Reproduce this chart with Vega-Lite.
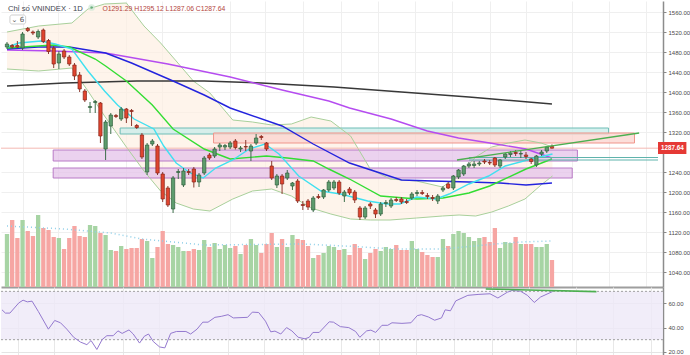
{
"$schema":"https://vega.github.io/schema/vega-lite/v6.json",
"padding":0,"spacing":0,"bounds":"flush","background":"#ffffff",
"config":{"view":{"stroke":null},"text":{"font":"Liberation Sans"},"axis":{"labelFont":"Liberation Sans"}},
"datasets":{
"candles":[
{"t":0,"o":1490,"h":1500,"l":1486,"c":1496,"v":265},
{"t":1,"o":1493,"h":1496,"l":1487,"c":1490,"v":335},
{"t":2,"o":1493,"h":1502,"l":1488,"c":1490,"v":245},
{"t":3,"o":1488,"h":1520,"l":1484,"c":1516,"v":335},
{"t":4,"o":1527,"h":1530,"l":1520,"c":1523,"v":280},
{"t":5,"o":1520,"h":1523,"l":1514,"c":1518,"v":255},
{"t":6,"o":1510,"h":1525,"l":1506,"c":1521,"v":360},
{"t":7,"o":1524,"h":1527,"l":1498,"c":1501,"v":295},
{"t":8,"o":1503,"h":1506,"l":1476,"c":1481,"v":285},
{"t":9,"o":1488,"h":1492,"l":1448,"c":1456,"v":250},
{"t":10,"o":1458,"h":1482,"l":1446,"c":1476,"v":245},
{"t":11,"o":1482,"h":1486,"l":1466,"c":1470,"v":190},
{"t":12,"o":1470,"h":1474,"l":1452,"c":1456,"v":245},
{"t":13,"o":1454,"h":1458,"l":1424,"c":1432,"v":305},
{"t":14,"o":1434,"h":1440,"l":1400,"c":1406,"v":255},
{"t":15,"o":1402,"h":1406,"l":1380,"c":1384,"v":250},
{"t":16,"o":1369,"h":1380,"l":1358,"c":1371,"v":310},
{"t":17,"o":1379,"h":1384,"l":1358,"c":1381,"v":305},
{"t":18,"o":1378,"h":1380,"l":1298,"c":1312,"v":270},
{"t":19,"o":1286,"h":1344,"l":1264,"c":1340,"v":260},
{"t":20,"o":1332,"h":1358,"l":1316,"c":1354,"v":185},
{"t":21,"o":1353,"h":1356,"l":1348,"c":1351,"v":180},
{"t":22,"o":1346,"h":1370,"l":1342,"c":1366,"v":205},
{"t":23,"o":1366,"h":1368,"l":1338,"c":1348,"v":190},
{"t":24,"o":1363,"h":1366,"l":1332,"c":1361,"v":195},
{"t":25,"o":1333,"h":1336,"l":1326,"c":1329,"v":195},
{"t":26,"o":1314,"h":1318,"l":1266,"c":1270,"v":240},
{"t":27,"o":1240,"h":1298,"l":1234,"c":1294,"v":230},
{"t":28,"o":1296,"h":1306,"l":1292,"c":1302,"v":145},
{"t":29,"o":1292,"h":1296,"l":1234,"c":1238,"v":200},
{"t":30,"o":1236,"h":1240,"l":1180,"c":1186,"v":280},
{"t":31,"o":1208,"h":1212,"l":1170,"c":1174,"v":215},
{"t":32,"o":1166,"h":1232,"l":1158,"c":1228,"v":210},
{"t":33,"o":1239,"h":1246,"l":1226,"c":1241,"v":200},
{"t":34,"o":1214,"h":1248,"l":1210,"c":1242,"v":180},
{"t":35,"o":1241,"h":1246,"l":1234,"c":1239,"v":180},
{"t":36,"o":1246,"h":1250,"l":1209,"c":1220,"v":190},
{"t":37,"o":1220,"h":1238,"l":1210,"c":1234,"v":185},
{"t":38,"o":1238,"h":1272,"l":1234,"c":1268,"v":235},
{"t":39,"o":1274,"h":1278,"l":1264,"c":1268,"v":200},
{"t":40,"o":1272,"h":1290,"l":1268,"c":1286,"v":220},
{"t":41,"o":1290,"h":1298,"l":1282,"c":1294,"v":190},
{"t":42,"o":1290,"h":1296,"l":1284,"c":1293,"v":210},
{"t":43,"o":1290,"h":1302,"l":1286,"c":1298,"v":195},
{"t":44,"o":1302,"h":1306,"l":1285,"c":1289,"v":205},
{"t":45,"o":1286,"h":1292,"l":1280,"c":1288,"v":165},
{"t":46,"o":1291,"h":1304,"l":1282,"c":1290,"v":210},
{"t":47,"o":1282,"h":1296,"l":1262,"c":1292,"v":240},
{"t":48,"o":1298,"h":1316,"l":1294,"c":1308,"v":210},
{"t":49,"o":1311,"h":1314,"l":1304,"c":1309,"v":170},
{"t":50,"o":1298,"h":1300,"l":1282,"c":1286,"v":215},
{"t":51,"o":1252,"h":1262,"l":1224,"c":1228,"v":270},
{"t":52,"o":1214,"h":1236,"l":1208,"c":1232,"v":200},
{"t":53,"o":1232,"h":1236,"l":1196,"c":1216,"v":240},
{"t":54,"o":1228,"h":1244,"l":1224,"c":1238,"v":200},
{"t":55,"o":1212,"h":1220,"l":1204,"c":1218,"v":260},
{"t":56,"o":1222,"h":1226,"l":1178,"c":1182,"v":240},
{"t":57,"o":1175,"h":1182,"l":1164,"c":1173,"v":235},
{"t":58,"o":1182,"h":1186,"l":1164,"c":1170,"v":205},
{"t":59,"o":1164,"h":1192,"l":1160,"c":1188,"v":145},
{"t":60,"o":1191,"h":1196,"l":1186,"c":1189,"v":160},
{"t":61,"o":1190,"h":1206,"l":1186,"c":1204,"v":170},
{"t":62,"o":1204,"h":1224,"l":1200,"c":1220,"v":205},
{"t":63,"o":1208,"h":1224,"l":1204,"c":1220,"v":200},
{"t":64,"o":1220,"h":1224,"l":1194,"c":1198,"v":185},
{"t":65,"o":1192,"h":1204,"l":1180,"c":1200,"v":190},
{"t":66,"o":1206,"h":1210,"l":1194,"c":1198,"v":160},
{"t":67,"o":1200,"h":1204,"l":1178,"c":1184,"v":215},
{"t":68,"o":1168,"h":1172,"l":1144,"c":1150,"v":195},
{"t":69,"o":1150,"h":1172,"l":1146,"c":1168,"v":140},
{"t":70,"o":1176,"h":1180,"l":1166,"c":1172,"v":170},
{"t":71,"o":1164,"h":1168,"l":1148,"c":1156,"v":190},
{"t":72,"o":1156,"h":1180,"l":1152,"c":1176,"v":180},
{"t":73,"o":1177,"h":1184,"l":1170,"c":1179,"v":200},
{"t":74,"o":1172,"h":1188,"l":1168,"c":1184,"v":190},
{"t":75,"o":1185,"h":1190,"l":1180,"c":1183,"v":210},
{"t":76,"o":1186,"h":1190,"l":1176,"c":1180,"v":185},
{"t":77,"o":1181,"h":1186,"l":1176,"c":1179,"v":185},
{"t":78,"o":1188,"h":1200,"l":1184,"c":1196,"v":230},
{"t":79,"o":1197,"h":1204,"l":1192,"c":1199,"v":190},
{"t":80,"o":1199,"h":1204,"l":1194,"c":1197,"v":175},
{"t":81,"o":1193,"h":1198,"l":1186,"c":1191,"v":160},
{"t":82,"o":1189,"h":1194,"l":1182,"c":1187,"v":150},
{"t":83,"o":1182,"h":1196,"l":1176,"c":1192,"v":150},
{"t":84,"o":1204,"h":1212,"l":1200,"c":1208,"v":240},
{"t":85,"o":1216,"h":1220,"l":1206,"c":1208,"v":205},
{"t":86,"o":1208,"h":1234,"l":1204,"c":1232,"v":265},
{"t":87,"o":1230,"h":1246,"l":1226,"c":1244,"v":280},
{"t":88,"o":1236,"h":1254,"l":1232,"c":1252,"v":270},
{"t":89,"o":1252,"h":1260,"l":1248,"c":1256,"v":250},
{"t":90,"o":1253,"h":1262,"l":1248,"c":1256,"v":230},
{"t":91,"o":1256,"h":1262,"l":1252,"c":1258,"v":245},
{"t":92,"o":1262,"h":1266,"l":1256,"c":1260,"v":250},
{"t":93,"o":1259,"h":1264,"l":1254,"c":1258,"v":225},
{"t":94,"o":1268,"h":1270,"l":1250,"c":1254,"v":295},
{"t":95,"o":1252,"h":1266,"l":1248,"c":1264,"v":195},
{"t":96,"o":1270,"h":1278,"l":1266,"c":1276,"v":225},
{"t":97,"o":1275,"h":1282,"l":1270,"c":1278,"v":220},
{"t":98,"o":1279,"h":1284,"l":1272,"c":1277,"v":250},
{"t":99,"o":1276,"h":1282,"l":1268,"c":1277,"v":215},
{"t":100,"o":1274,"h":1280,"l":1266,"c":1271,"v":215},
{"t":101,"o":1266,"h":1268,"l":1256,"c":1261,"v":215},
{"t":102,"o":1254,"h":1274,"l":1250,"c":1272,"v":200},
{"t":103,"o":1276,"h":1284,"l":1272,"c":1280,"v":200},
{"t":104,"o":1282,"h":1292,"l":1278,"c":1290,"v":215},
{"t":105,"o":1291.29,"h":1295.12,"l":1287.06,"c":1287.64,"v":135}
],
"ma":[
{"s":"ma200","t":0,"p":1412},{"s":"ma200","t":11,"p":1418},{"s":"ma200","t":25,"p":1422},{"s":"ma200","t":38,"p":1422},{"s":"ma200","t":49,"p":1418},{"s":"ma200","t":63,"p":1410},{"s":"ma200","t":76,"p":1400},{"s":"ma200","t":89,"p":1390},{"s":"ma200","t":105,"p":1376},
{"s":"ma100","t":0,"p":1484},{"s":"ma100","t":9,"p":1482},{"s":"ma100","t":19,"p":1478},{"s":"ma100","t":31,"p":1456},{"s":"ma100","t":43,"p":1430},{"s":"ma100","t":53,"p":1404},{"s":"ma100","t":62,"p":1382},{"s":"ma100","t":66,"p":1368},{"s":"ma100","t":74,"p":1346},{"s":"ma100","t":81,"p":1322},{"s":"ma100","t":87,"p":1308},{"s":"ma100","t":93,"p":1298},{"s":"ma100","t":100,"p":1286},{"s":"ma100","t":105,"p":1268},
{"s":"ma50","t":0,"p":1486},{"s":"ma50","t":6,"p":1490},{"s":"ma50","t":12,"p":1490},{"s":"ma50","t":19,"p":1478},{"s":"ma50","t":24,"p":1458},{"s":"ma50","t":32,"p":1422},{"s":"ma50","t":38,"p":1394},{"s":"ma50","t":43,"p":1368},{"s":"ma50","t":53,"p":1332},{"s":"ma50","t":59,"p":1296},{"s":"ma50","t":66,"p":1258},{"s":"ma50","t":76,"p":1224},{"s":"ma50","t":82,"p":1222},{"s":"ma50","t":89,"p":1220},{"s":"ma50","t":95,"p":1218},{"s":"ma50","t":100,"p":1214},{"s":"ma50","t":105,"p":1218},
{"s":"ma20","t":0,"p":1488},{"s":"ma20","t":9,"p":1494},{"s":"ma20","t":12,"p":1490},{"s":"ma20","t":17,"p":1466},{"s":"ma20","t":19,"p":1452},{"s":"ma20","t":23,"p":1422},{"s":"ma20","t":28,"p":1374},{"s":"ma20","t":32,"p":1326},{"s":"ma20","t":38,"p":1286},{"s":"ma20","t":43,"p":1266},{"s":"ma20","t":50,"p":1272},{"s":"ma20","t":54,"p":1268},{"s":"ma20","t":59,"p":1262},{"s":"ma20","t":62,"p":1246},{"s":"ma20","t":66,"p":1226},{"s":"ma20","t":72,"p":1192},{"s":"ma20","t":79,"p":1186},{"s":"ma20","t":84,"p":1188},{"s":"ma20","t":89,"p":1198},{"s":"ma20","t":93,"p":1212},{"s":"ma20","t":100,"p":1246},{"s":"ma20","t":105,"p":1266},
{"s":"ma10","t":0,"p":1490},{"s":"ma10","t":2.3,"p":1498},{"s":"ma10","t":6.5,"p":1502},{"s":"ma10","t":9.3,"p":1496},{"s":"ma10","t":12.5,"p":1486},{"s":"ma10","t":15.6,"p":1442},{"s":"ma10","t":18.8,"p":1402},{"s":"ma10","t":21.3,"p":1374},{"s":"ma10","t":24.5,"p":1346},{"s":"ma10","t":28.3,"p":1326},{"s":"ma10","t":30.2,"p":1292},{"s":"ma10","t":32.6,"p":1258},{"s":"ma10","t":35.3,"p":1238},{"s":"ma10","t":37.8,"p":1228},{"s":"ma10","t":40.2,"p":1248},{"s":"ma10","t":43.5,"p":1264},{"s":"ma10","t":46.7,"p":1286},{"s":"ma10","t":49.7,"p":1296},{"s":"ma10","t":52.4,"p":1276},{"s":"ma10","t":56.2,"p":1232},{"s":"ma10","t":60.5,"p":1202},{"s":"ma10","t":64.3,"p":1196},{"s":"ma10","t":69.5,"p":1182},{"s":"ma10","t":73.2,"p":1176},{"s":"ma10","t":75.7,"p":1176},{"s":"ma10","t":78.9,"p":1190},{"s":"ma10","t":82.7,"p":1186},{"s":"ma10","t":85.2,"p":1196},{"s":"ma10","t":89,"p":1216},{"s":"ma10","t":92.8,"p":1232},{"s":"ma10","t":96,"p":1252},{"s":"ma10","t":101,"p":1266},{"s":"ma10","t":105.1,"p":1276}
],
"bb":[
{"t":0,"up":1520,"lo":1446},{"t":6.1,"up":1532,"lo":1442},{"t":12.5,"up":1538,"lo":1448},{"t":15.6,"up":1566,"lo":1402},{"t":18.8,"up":1576,"lo":1352},{"t":23,"up":1578,"lo":1290},{"t":26.4,"up":1532,"lo":1242},{"t":29.6,"up":1498,"lo":1202},{"t":32.6,"up":1462,"lo":1178},{"t":35.9,"up":1422,"lo":1166},{"t":39.1,"up":1398,"lo":1162},{"t":43.5,"up":1344,"lo":1186},{"t":47.3,"up":1340,"lo":1202},{"t":51,"up":1334,"lo":1206},{"t":54.8,"up":1336,"lo":1192},{"t":58.6,"up":1350,"lo":1168},{"t":62.4,"up":1342,"lo":1156},{"t":66.2,"up":1312,"lo":1146},{"t":70,"up":1246,"lo":1144},{"t":73.8,"up":1226,"lo":1144},{"t":78.9,"up":1222,"lo":1148},{"t":83.9,"up":1210,"lo":1152},{"t":87.1,"up":1234,"lo":1154},{"t":90.3,"up":1270,"lo":1152},{"t":93.4,"up":1290,"lo":1160},{"t":96.6,"up":1298,"lo":1172},{"t":99.8,"up":1304,"lo":1186},{"t":102.9,"up":1298,"lo":1214},{"t":105.1,"up":1290,"lo":1232}
],
"volma":[
{"t":0,"v":305},{"t":11,"v":290},{"t":20,"v":270},{"t":26,"v":240},{"t":38,"v":210},{"t":57,"v":215},{"t":65,"v":205},{"t":75,"v":190},{"t":84,"v":190},{"t":94,"v":215},{"t":99,"v":225},{"t":105,"v":230}
],
"rects":[
{"k":"teal","t1":21.8,"t2":115.9,"p1":1328,"p2":1316},
{"k":"red","t1":39.8,"t2":120.9,"p1":1318,"p2":1298},
{"k":"purple","t1":8.9,"t2":109.9,"p1":1284,"p2":1262},
{"k":"purple","t1":8.9,"t2":108.9,"p1":1248,"p2":1228}
],
"levels":[{"t1":89,"t2":125.43,"p":1269},{"t1":89,"t2":125.43,"p":1264}],
"trend":[{"t":86.7,"p":1264},{"t":121.8,"p":1318}],
"rsi":[
{"t":0,"v":54.7},{"t":0.65,"v":52},{"t":1.5,"v":52},{"t":3.2,"v":60.5},{"t":4.0,"v":62.7},{"t":4.8,"v":61.3},{"t":5.7,"v":61.9},{"t":6.9,"v":53.3},{"t":8.8,"v":38.7},{"t":10.0,"v":45.9},{"t":11.1,"v":44},{"t":12.3,"v":38.7},{"t":13.6,"v":32},{"t":14.9,"v":28},{"t":16.1,"v":25.9},{"t":16.9,"v":29.3},{"t":18.0,"v":21.9},{"t":19.0,"v":30.1},{"t":19.9,"v":33.3},{"t":21.1,"v":33.3},{"t":22.0,"v":37.3},{"t":22.8,"v":35.2},{"t":24.1,"v":38.1},{"t":24.9,"v":34.7},{"t":26.1,"v":27.2},{"t":27.0,"v":32.8},{"t":27.8,"v":34.7},{"t":28.7,"v":28.5},{"t":29.9,"v":24},{"t":30.9,"v":23.2},{"t":32.0,"v":35.2},{"t":33.1,"v":36.8},{"t":34.9,"v":36.8},{"t":35.8,"v":34.7},{"t":37.0,"v":38.7},{"t":38.1,"v":44.5},{"t":39.1,"v":44.5},{"t":40.4,"v":48.5},{"t":41.6,"v":49.3},{"t":42.9,"v":50.7},{"t":43.9,"v":48},{"t":46.6,"v":48.5},{"t":47.5,"v":52.8},{"t":48.7,"v":52.5},{"t":50.0,"v":45.3},{"t":51.0,"v":36.5},{"t":51.8,"v":37.1},{"t":52.9,"v":34.7},{"t":54.0,"v":40},{"t":55.0,"v":37.3},{"t":56.2,"v":32},{"t":57.5,"v":30.7},{"t":58.3,"v":32},{"t":59.0,"v":36},{"t":60.2,"v":36},{"t":62.1,"v":44.8},{"t":62.9,"v":44.5},{"t":64.2,"v":40.8},{"t":65.8,"v":40},{"t":67.1,"v":36.8},{"t":67.9,"v":32},{"t":69.2,"v":37.3},{"t":70.0,"v":37.9},{"t":70.9,"v":36},{"t":72.1,"v":41.9},{"t":73.2,"v":41.9},{"t":74.0,"v":44},{"t":75.9,"v":43.5},{"t":77.6,"v":44},{"t":78.8,"v":49.9},{"t":79.6,"v":50.7},{"t":80.9,"v":48.8},{"t":82.1,"v":46.1},{"t":83.4,"v":48},{"t":84.1,"v":54.7},{"t":85.1,"v":53.9},{"t":86.1,"v":62.1},{"t":88.4,"v":66.7},{"t":90.5,"v":67.5},{"t":92.6,"v":68},{"t":94.1,"v":64.5},{"t":95.9,"v":69.3},{"t":96.8,"v":70.7},{"t":98.4,"v":70.1},{"t":99.7,"v":66.7},{"t":101.0,"v":60.8},{"t":102.2,"v":65.3},{"t":104.5,"v":69.9}
],
"rsitrend":[{"t":91.8,"v":72},{"t":112.8,"v":69.8}]
},
"vconcat":[
{"width":662,"height":286,
 "resolve":{"scale":{"y":"independent"},"axis":{"x":"independent","y":"independent"}},
 "layer":[
  {"data":{"name":"bb"},"mark":{"type":"area","color":"#fdefe2","opacity":0.7},
   "encoding":{
    "x":{"field":"t","type":"quantitative","scale":{"domain":[-0.19,125.43],"nice":false,"zero":false},
         "axis":{"values":[3.04,9.87,22.96,29.79,42.88,49.72,57.12,64.33,71.54,78.56,85.77,92.98,100.0,108.9,115.9,123.2],"grid":true,"gridColor":"#efefef","labels":false,"ticks":false,"domain":true,"domainColor":"#9e9e9e","domainWidth":2,"title":null}},
    "y":{"field":"up","type":"quantitative","scale":{"domain":[1010,1582],"nice":false,"zero":false},
         "axis":{"orient":"right","values":[1040,1080,1120,1160,1200,1240,1320,1360,1400,1440,1480,1520,1560],"format":".2f","labelFontSize":6,"labelColor":"#4a4a4a","tickSize":3,"tickColor":"#888888","domainColor":"#8c8c8c","domainWidth":1.5,"grid":true,"gridColor":"#efefef","title":null,"labelPadding":2}},
    "y2":{"field":"lo"}}},
  {"resolve":{"axis":{"x":"independent","y":"independent"}},
   "layer":[
    {"data":{"name":"candles"},"mark":{"type":"bar","size":4.3},
     "encoding":{
      "x":{"field":"t","type":"quantitative","scale":{"domain":[-0.19,125.43],"nice":false,"zero":false},"axis":null},
      "y":{"field":"v","type":"quantitative","scale":{"domain":[0,1430],"nice":false,"zero":true},"axis":null},
      "color":{"condition":{"test":"datum.c >= datum.o","value":"#a7d4a4"},"value":"#f6a6a3"}}},
    {"data":{"name":"volma"},"mark":{"type":"line","color":"#8fcfe8","strokeWidth":1.5,"strokeDash":[1,3]},
     "encoding":{
      "x":{"field":"t","type":"quantitative","scale":{"domain":[-0.19,125.43],"nice":false,"zero":false},"axis":null},
      "y":{"field":"v","type":"quantitative","scale":{"domain":[0,1430],"nice":false,"zero":true},"axis":null}}}
  ]},
  {"resolve":{"axis":{"x":"independent","y":"independent"}},
   "layer":[
    {"data":{"name":"rects"},"mark":{"type":"rect","strokeWidth":1},
     "encoding":{
      "x":{"field":"t1","type":"quantitative","scale":{"domain":[-0.19,125.43],"nice":false,"zero":false},"axis":null},
      "x2":{"field":"t2"},
      "y":{"field":"p1","type":"quantitative","scale":{"domain":[1010,1582],"nice":false,"zero":false},"axis":null},
      "y2":{"field":"p2"},
      "fill":{"field":"k","type":"nominal","scale":{"domain":["teal","red","purple"],"range":["#c8ecea","#fbd3ce","#e4c3ea"]},"legend":null},
      "stroke":{"field":"k","type":"nominal","scale":{"domain":["teal","red","purple"],"range":["#6fbdb6","#f0958b","#b87ac6"]},"legend":null},
      "fillOpacity":{"value":0.75}}},
    {"data":{"name":"bb"},"mark":{"type":"line","color":"#a9d09b","strokeWidth":1},
     "encoding":{
      "x":{"field":"t","type":"quantitative","scale":{"domain":[-0.19,125.43],"nice":false,"zero":false},"axis":null},
      "y":{"field":"up","type":"quantitative","scale":{"domain":[1010,1582],"nice":false,"zero":false},"axis":null}}},
    {"data":{"name":"bb"},"mark":{"type":"line","color":"#a9d09b","strokeWidth":1},
     "encoding":{
      "x":{"field":"t","type":"quantitative","scale":{"domain":[-0.19,125.43],"nice":false,"zero":false},"axis":null},
      "y":{"field":"lo","type":"quantitative","scale":{"domain":[1010,1582],"nice":false,"zero":false},"axis":null}}},
    {"data":{"values":[{}]},"mark":{"type":"rule","color":"#f4b8b2","strokeWidth":1},
     "encoding":{"y":{"datum":1287.64,"type":"quantitative","scale":{"domain":[1010,1582],"nice":false,"zero":false},"axis":null}}},
    {"data":{"name":"ma"},"mark":{"type":"line","strokeWidth":1.4},
     "encoding":{
      "x":{"field":"t","type":"quantitative","scale":{"domain":[-0.19,125.43],"nice":false,"zero":false},"axis":null},
      "y":{"field":"p","type":"quantitative","scale":{"domain":[1010,1582],"nice":false,"zero":false},"axis":null},
      "color":{"field":"s","type":"nominal","scale":{"domain":["ma200","ma100","ma50","ma20","ma10"],"range":["#383838","#b54cf0","#2323dd","#33dd33","#40e0f0"]},"legend":null}}},
    {"data":{"name":"levels"},"mark":{"type":"rule","color":"#5fb3ac","strokeWidth":1},
     "encoding":{
      "x":{"field":"t1","type":"quantitative","scale":{"domain":[-0.19,125.43],"nice":false,"zero":false},"axis":null},
      "x2":{"field":"t2"},
      "y":{"field":"p","type":"quantitative","scale":{"domain":[1010,1582],"nice":false,"zero":false},"axis":null}}},
    {"data":{"name":"candles"},"mark":{"type":"rule","strokeWidth":1},
     "encoding":{
      "x":{"field":"t","type":"quantitative","scale":{"domain":[-0.19,125.43],"nice":false,"zero":false},"axis":null},
      "y":{"field":"l","type":"quantitative","scale":{"domain":[1010,1582],"nice":false,"zero":false},"axis":null},
      "y2":{"field":"h"},
      "color":{"condition":{"test":"datum.c >= datum.o","value":"#3d6e4b"},"value":"#8a3a30"}}},
    {"data":{"name":"candles"},"mark":{"type":"bar","size":3.3,"strokeWidth":0.7},
     "encoding":{
      "x":{"field":"t","type":"quantitative","scale":{"domain":[-0.19,125.43],"nice":false,"zero":false},"axis":null},
      "y":{"field":"o","type":"quantitative","scale":{"domain":[1010,1582],"nice":false,"zero":false},"axis":null},
      "y2":{"field":"c"},
      "fill":{"condition":{"test":"datum.c >= datum.o","value":"#5d9c6d"},"value":"#e0452f"},
      "stroke":{"condition":{"test":"datum.c >= datum.o","value":"#2f5e3c"},"value":"#86251a"}}},
    {"data":{"name":"trend"},"mark":{"type":"line","color":"#4caf50","strokeWidth":1.3},
     "encoding":{
      "x":{"field":"t","type":"quantitative","scale":{"domain":[-0.19,125.43],"nice":false,"zero":false},"axis":null},
      "y":{"field":"p","type":"quantitative","scale":{"domain":[1010,1582],"nice":false,"zero":false},"axis":null}}},
    {"data":{"values":[{}]},"mark":{"type":"rect","fill":"#ffffff","stroke":"#cfcfcf","strokeWidth":1,"cornerRadius":2},
     "encoding":{"x":{"datum":0.57,"type":"quantitative","scale":{"domain":[-0.19,125.43],"nice":false,"zero":false},"axis":null},"x2":{"datum":3.6},
      "y":{"datum":1554,"type":"quantitative","scale":{"domain":[1010,1582],"nice":false,"zero":false},"axis":null},"y2":{"datum":1536}}},
    {"data":{"values":[{"label":"⌄ 6"}]},"mark":{"type":"text","fontSize":7,"color":"#555555","align":"center","baseline":"middle","font":"DejaVu Sans"},
     "encoding":{"x":{"datum":2.1,"type":"quantitative","scale":{"domain":[-0.19,125.43],"nice":false,"zero":false},"axis":null},
      "y":{"datum":1545,"type":"quantitative","scale":{"domain":[1010,1582],"nice":false,"zero":false},"axis":null},"text":{"field":"label"}}},
    {"data":{"values":[{"label":"Chỉ số VNINDEX · 1D"}]},"mark":{"type":"text","fontSize":7.7,"color":"#434651","align":"left","baseline":"middle"},
     "encoding":{"x":{"datum":0.19,"type":"quantitative","scale":{"domain":[-0.19,125.43],"nice":false,"zero":false},"axis":null},
      "y":{"datum":1567,"type":"quantitative","scale":{"domain":[1010,1582],"nice":false,"zero":false},"axis":null},"text":{"field":"label"}}},
    {"data":{"values":[{}]},"mark":{"type":"point","filled":true,"size":22,"color":"#3f9a5e","stroke":"#cfe8d6","strokeWidth":2},
     "encoding":{"x":{"datum":16.3,"type":"quantitative","scale":{"domain":[-0.19,125.43],"nice":false,"zero":false},"axis":null},
      "y":{"datum":1569,"type":"quantitative","scale":{"domain":[1010,1582],"nice":false,"zero":false},"axis":null}}},
    {"data":{"values":[{"label":"O1291.29 H1295.12 L1287.06 C1287.64"}]},"mark":{"type":"text","fontSize":6.8,"color":"#b3443b","align":"left","baseline":"middle"},
     "encoding":{"x":{"datum":18.4,"type":"quantitative","scale":{"domain":[-0.19,125.43],"nice":false,"zero":false},"axis":null},
      "y":{"datum":1567,"type":"quantitative","scale":{"domain":[1010,1582],"nice":false,"zero":false},"axis":null},"text":{"field":"label"}}},
    {"data":{"values":[{}]},"mark":{"type":"rect","fill":"#e53935"},
     "encoding":{"x":{"datum":125.43,"type":"quantitative","scale":{"domain":[-0.19,125.43],"nice":false,"zero":false},"axis":null},"x2":{"datum":130.9},
      "y":{"datum":1300,"type":"quantitative","scale":{"domain":[1010,1582],"nice":false,"zero":false},"axis":null},"y2":{"datum":1276}}},
    {"data":{"values":[{"label":"1287.64"}]},"mark":{"type":"text","fontSize":6.3,"color":"#ffffff","align":"center","baseline":"middle","fontWeight":"bold"},
     "encoding":{"x":{"datum":128.2,"type":"quantitative","scale":{"domain":[-0.19,125.43],"nice":false,"zero":false},"axis":null},
      "y":{"datum":1287.64,"type":"quantitative","scale":{"domain":[1010,1582],"nice":false,"zero":false},"axis":null},"text":{"field":"label"}}}
  ]}
 ]},
{"width":662,"height":69,
 "resolve":{"axis":{"x":"independent","y":"independent"}},
 "layer":[
  {"data":{"values":[{}]},"mark":{"type":"rect","color":"#ede8f7","opacity":0.8},
   "encoding":{"y":{"datum":70,"type":"quantitative","scale":{"domain":[16.5,73.6],"nice":false,"zero":false},"axis":null},"y2":{"datum":30}}},
  {"data":{"values":[{"lv":70},{"lv":30}]},"mark":{"type":"rule","color":"#a0a0a0","strokeDash":[2,2],"strokeWidth":1},
   "encoding":{"y":{"field":"lv","type":"quantitative","scale":{"domain":[16.5,73.6],"nice":false,"zero":false},"axis":null}}},
  {"data":{"name":"rsi"},"mark":{"type":"line","color":"#9479cf","strokeWidth":1},
   "encoding":{
    "x":{"field":"t","type":"quantitative","scale":{"domain":[-0.19,125.43],"nice":false,"zero":false},
         "axis":{"values":[3.04,9.87,22.96,29.79,42.88,49.72,57.12,64.33,71.54,78.56,85.77,92.98,100.0,108.9,115.9,123.2],"grid":true,"gridColor":"#e8e8e8","labels":false,"ticks":false,"domain":false,"title":null}},
    "y":{"field":"v","type":"quantitative","scale":{"domain":[16.5,73.6],"nice":false,"zero":false},
         "axis":{"orient":"right","values":[20,40,60],"format":".2f","labelFontSize":6,"labelColor":"#4a4a4a","tickSize":3,"tickColor":"#888888","domainColor":"#8c8c8c","domainWidth":1.5,"grid":true,"gridColor":"#e4e4e4","title":null,"labelPadding":2}}}},
  {"data":{"name":"rsitrend"},"mark":{"type":"line","color":"#4caf50","strokeWidth":1.6},
   "encoding":{
    "x":{"field":"t","type":"quantitative","scale":{"domain":[-0.19,125.43],"nice":false,"zero":false},"axis":null},
    "y":{"field":"v","type":"quantitative","scale":{"domain":[16.5,73.6],"nice":false,"zero":false},"axis":null}}}
 ]}
]
}
